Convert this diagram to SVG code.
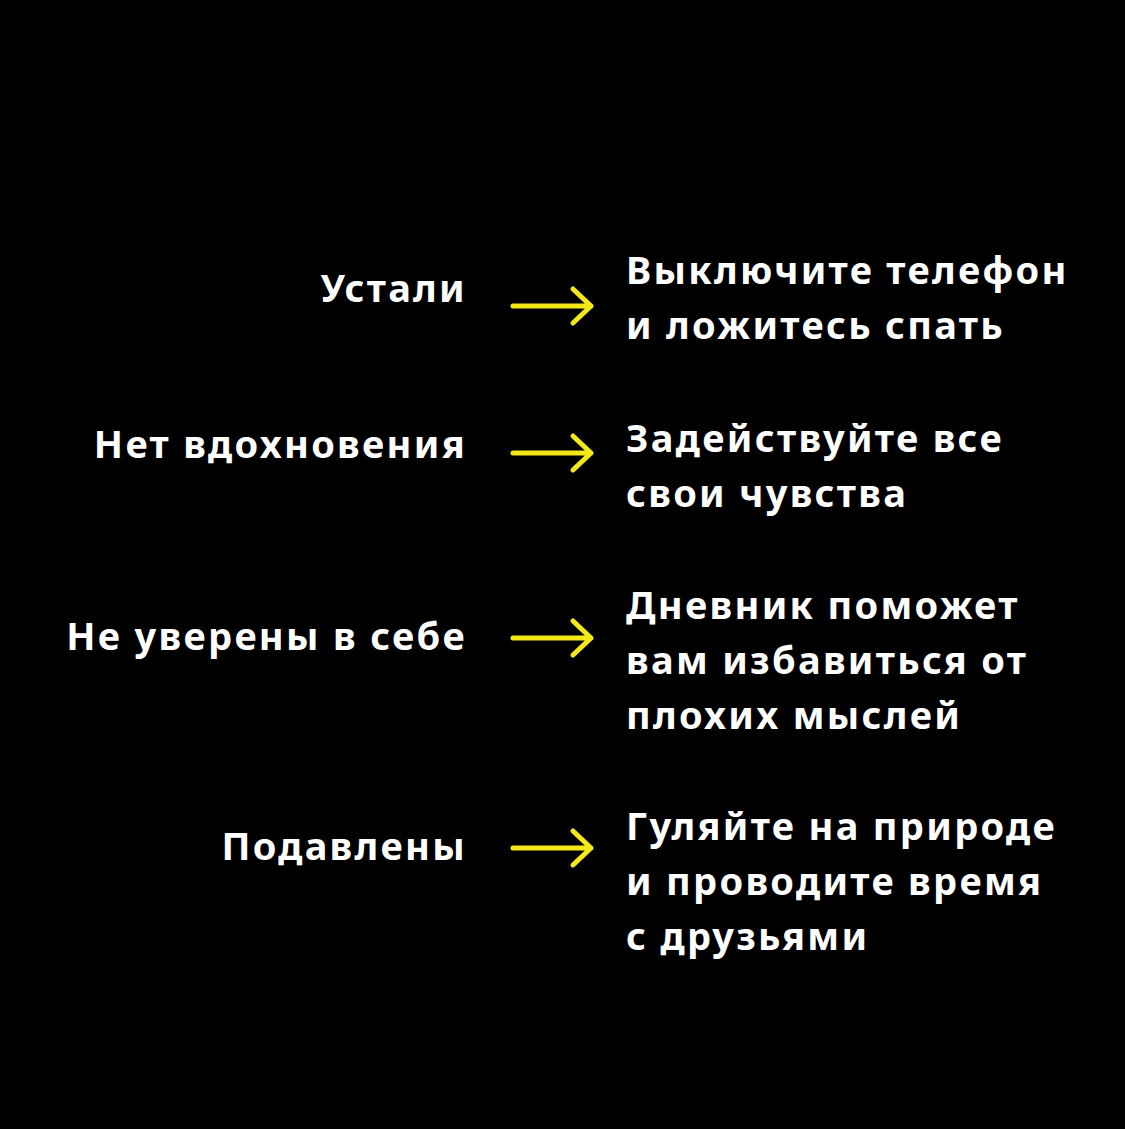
<svg xmlns="http://www.w3.org/2000/svg" width="1125" height="1129" viewBox="0 0 1125 1129">
<style>
text{font-family:"Noto Sans","Liberation Sans",sans-serif;font-weight:700;font-size:38px;fill:#fff;letter-spacing:2.3px}
.l{text-anchor:end}
.a{stroke:#f5e818;stroke-width:5;fill:none;stroke-linecap:round;stroke-linejoin:round}
</style>
<defs><g id="arr"><path class="a" d="M0 0H78M60 -17L78 0L60 17"/></g></defs>
<rect width="1125" height="1129" fill="#000"/>
<g id="connectors">
<use href="#arr" x="513" y="306"/>
<use href="#arr" x="513" y="453"/>
<use href="#arr" x="513" y="638"/>
<use href="#arr" x="513" y="848"/>
</g>
<g id="n1"><text class="l" x="467" y="302">Устали</text><text x="626" y="284">Выключите телефон</text><text x="626" y="339">и ложитесь спать</text></g>
<g id="n2"><text class="l" x="467" y="458">Нет вдохновения</text><text x="626" y="452">Задействуйте все</text><text x="626" y="507">свои чувства</text></g>
<g id="n3"><text class="l" x="467" y="650">Не уверены в себе</text><text x="626" y="619">Дневник поможет</text><text x="626" y="674">вам избавиться от</text><text x="626" y="729">плохих мыслей</text></g>
<g id="n4"><text class="l" x="467" y="860">Подавлены</text><text x="626" y="840">Гуляйте на природе</text><text x="626" y="895">и проводите время</text><text x="626" y="950">с друзьями</text></g>
</svg>
